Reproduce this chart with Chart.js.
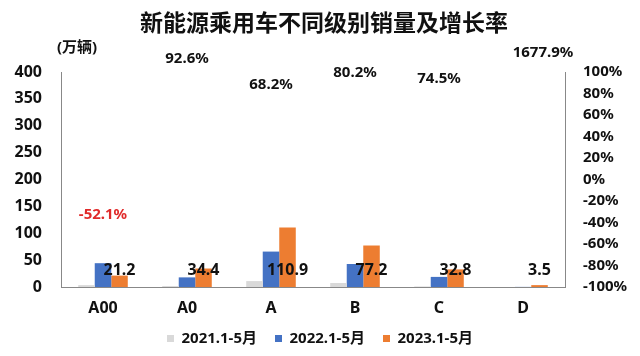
<!DOCTYPE html>
<html>
<head>
<meta charset="utf-8">
<script src="https://cdn.jsdelivr.net/npm/chart.js@4"></script>
<style>
html,body{margin:0;padding:0;background:#fff;}
#wrap{width:640px;height:356px;position:relative;}
</style>
</head>
<body>
<div id="wrap"><canvas id="c" width="640" height="356"></canvas></div>
<script>
const categories = ['A00', 'A0', 'A', 'B', 'C', 'D'];
const sales2021 = [3.5, 1.8, 11.0, 7.5, 1.0, 0];
const sales2022 = [44.3, 17.9, 65.9, 42.8, 18.8, 0.2];
const sales2023 = [21.2, 34.4, 110.9, 77.2, 32.8, 3.5];
const growth = [-52.1, 92.6, 68.2, 80.2, 74.5, 1677.9];
const leftTicks = [0, 400, 50];
const rightTicks = [-100, 100, 20];
const seriesNames = ['2021.1-5月', '2022.1-5月', '2023.1-5月'];
const titleText = '新能源乘用车不同级别销量及增长率';
const unitText = '(万辆)';

const FONT = '"Noto Sans", "Noto Sans CJK SC", sans-serif';

const labelsPlugin = {
  id: 'labels',
  afterDatasetsDraw(chart) {
    const ctx = chart.ctx;
    const area = chart.chartArea;
    ctx.save();
    // title
    ctx.fillStyle = '#111';
    ctx.textAlign = 'center';
    ctx.textBaseline = 'middle';
    ctx.font = 'bold 23px "Noto Sans CJK SC", sans-serif';
    ctx.fillText(titleText, 324, 22);
    ctx.font = 'bold 15px ' + FONT;
    ctx.fillText(unitText, 77, 48);
    // bar value labels (2023)
    const y = chart.scales.y;
    const meta3 = chart.getDatasetMeta(2);
    ctx.font = 'bold 16px ' + FONT;
    ctx.fillStyle = '#111';
    meta3.data.forEach((bar, i) => {
      ctx.fillText(sales2023[i].toFixed(1), bar.x, y.getPixelForValue(0) - 17);
    });
    // growth labels
    const metaG = chart.getDatasetMeta(3);
    const y1 = chart.scales.y1;
    ctx.font = 'bold 15px ' + FONT;
    metaG.data.forEach((pt, i) => {
      const v = growth[i];
      let py = y1.getPixelForValue(Math.min(v, y1.max));
      let px = pt.x;
      if (v > y1.max) { px += 20; py = area.top - 19; } else { py -= 21; }
      ctx.fillStyle = v < 0 ? '#E02A2A' : '#111';
      ctx.fillText(v.toFixed(1) + '%', px, py);
    });
    ctx.restore();
  }
};

new Chart(document.getElementById('c'), {
  type: 'bar',
  data: {
    labels: categories,
    datasets: [
      { label: seriesNames[0], data: sales2021, backgroundColor: '#D9D9D9', yAxisID: 'y' },
      { label: seriesNames[1], data: sales2022, backgroundColor: '#4472C4', yAxisID: 'y' },
      { label: seriesNames[2], data: sales2023, backgroundColor: '#ED7D31', yAxisID: 'y' },
      { type: 'line', label: 'growth', data: growth.map(v => Math.min(v, rightTicks[1])), yAxisID: 'y1',
        showLine: false, pointRadius: 0, borderColor: 'rgba(0,0,0,0)', backgroundColor: 'rgba(0,0,0,0)' }
    ]
  },
  options: {
    responsive: false,
    animation: false,
    devicePixelRatio: 1,
    layout: { padding: { top: 72, left: 0, right: 0, bottom: 0 } },
    datasets: { bar: { barPercentage: 1.0, categoryPercentage: 0.59 } },
    plugins: {
      title: { display: false },
      tooltip: { enabled: false },
      legend: {
        position: 'bottom',
        labels: {
          boxWidth: 7, boxHeight: 7, padding: 18, color: '#111',
          font: { family: FONT, size: 15, weight: 'bold' },
          filter: item => item.datasetIndex < 3
        }
      }
    },
    scales: {
      x: {
        grid: { display: false, drawTicks: false },
        border: { display: true, color: '#888', width: 1 },
        ticks: { color: '#111', padding: 12, font: { family: FONT, size: 16, weight: 'bold' } },
        afterFit: s => { s.height = 26; }
      },
      y: {
        position: 'left', min: leftTicks[0], max: leftTicks[1],
        grid: { display: false, drawTicks: false },
        border: { display: true, color: '#888', width: 1 },
        ticks: { stepSize: leftTicks[2], color: '#111', padding: 19, font: { family: FONT, size: 16, weight: 'bold' } },
        afterFit: s => { s.width = 61; }
      },
      y1: {
        position: 'right', min: rightTicks[0], max: rightTicks[1],
        grid: { display: false, drawTicks: false },
        border: { display: true, color: '#888', width: 1 },
        ticks: { stepSize: rightTicks[2], color: '#111', padding: 18, font: { family: FONT, size: 15, weight: 'bold' },
          callback: v => v + '%' },
        afterFit: s => { s.width = 75; }
      }
    }
  },
  plugins: [labelsPlugin]
});
</script>
</body>
</html>
